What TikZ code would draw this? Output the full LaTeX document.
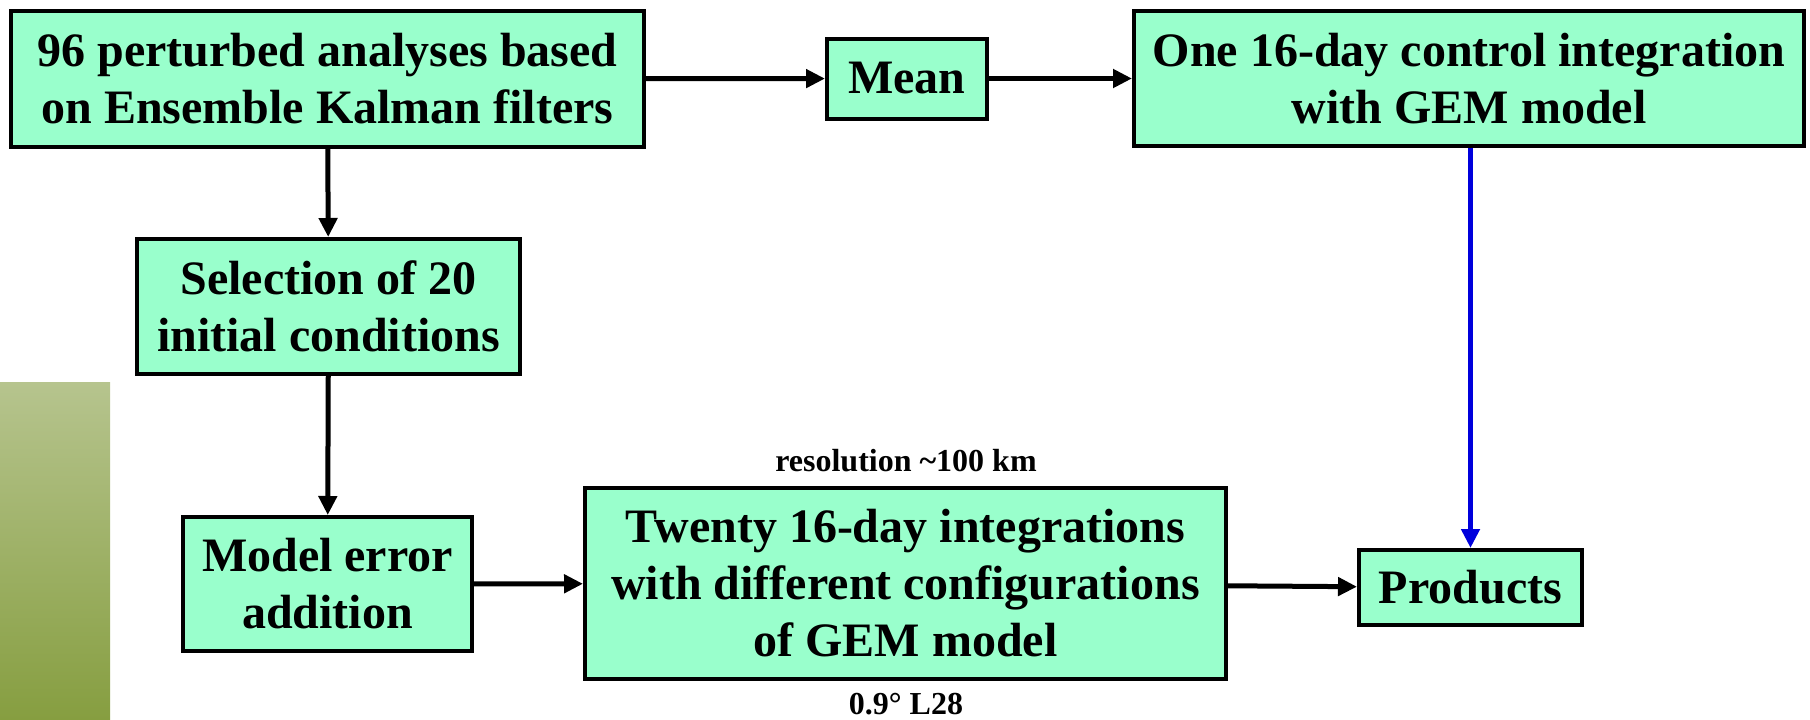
\documentclass[tikz,border=0pt]{standalone}
\usepackage{fontspec}
\setmainfont{Liberation Serif}
\usetikzlibrary{arrows.meta}

\definecolor{boxfill}{RGB}{153,255,204}
\definecolor{bartop}{RGB}{182,196,142}
\definecolor{barbottom}{RGB}{134,158,64}
\definecolor{ctrlblue}{RGB}{0,0,220}

\begin{document}
\begin{tikzpicture}[x=1pt,y=-1pt]
\useasboundingbox (0,0) rectangle (1810,720);
\shade[top color=bartop,bottom color=barbottom] (0,382) rectangle (110,720);
\tikzset{vertex/.style = {shape=rectangle,draw,line width=4pt,fill=boxfill,inner sep=0pt,align=center,
  font=\fontsize{48}{57}\selectfont\bfseries}}
\tikzset{note/.style = {inner sep=0pt,font=\fontsize{32}{38}\selectfont\bfseries}}
% vertices
\node[vertex,minimum width=633pt,minimum height=136pt] (pert) at (327.5,79) {96 perturbed analyses based\\on Ensemble Kalman filters};
\node[vertex,minimum width=160pt,minimum height=80pt] (mean) at (907,78.5) {Mean};
\node[vertex,minimum width=670pt,minimum height=135pt] (ctrl) at (1469,78.5) {One 16-day control integration\\with GEM model};
\node[vertex,minimum width=383pt,minimum height=135pt] (sel) at (328.5,306.5) {Selection of 20\\initial conditions};
\node[vertex,minimum width=289pt,minimum height=134pt] (err) at (327.5,584) {Model error\\addition};
\node[vertex,minimum width=641pt,minimum height=191pt] (ens) at (905.5,583.5) {Twenty 16-day integrations\\with different configurations\\of GEM model};
\node[vertex,minimum width=223pt,minimum height=75pt] (prod) at (1470.5,587.5) {Products};
\node[note] (res) at (906,461) {resolution \textasciitilde100 km};
\node[note] (grid) at (906,704) {0.9° L28};
%edges
\tikzset{flow/.style = {-{Triangle[length=19pt,width=18pt]},line width=5pt}}
\draw[flow] (pert) -- (mean);
\draw[flow] (mean) -- (ctrl);
\draw[flow] (pert) -- (sel);
\draw[flow] (sel) -- (err);
\draw[flow] (err) -- (ens);
\draw[flow] (ens) -- (prod);

\tikzset{flow/.style = {-{Triangle[length=19pt,width=18pt]},ctrlblue,line width=5pt}}
\draw[flow] (ctrl.south -| prod.north) -- (prod.north);

\end{tikzpicture}
\end{document}
